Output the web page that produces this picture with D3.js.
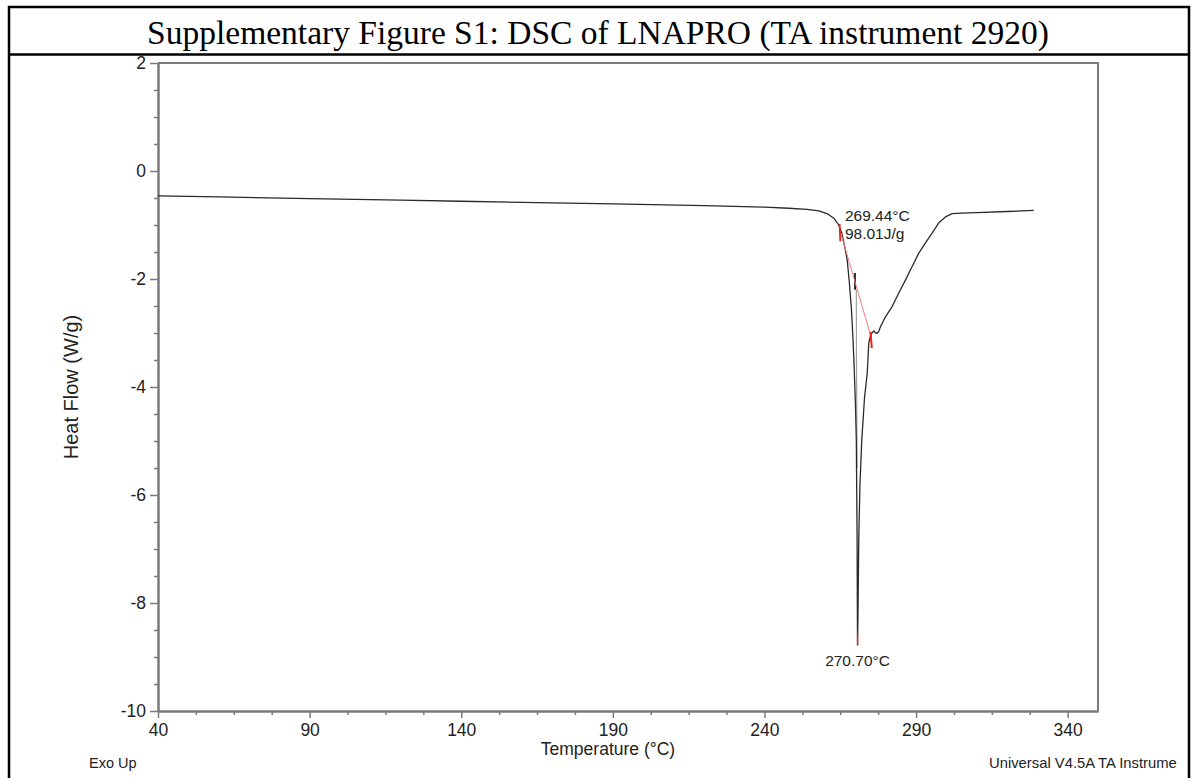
<!DOCTYPE html>
<html>
<head>
<meta charset="utf-8">
<script src="https://cdn.jsdelivr.net/npm/d3@7"></script>
<style>
  html, body { margin: 0; padding: 0; background: #fff; }
  svg { display: block; }
</style>
</head>
<body>
<svg id="chart" width="1196" height="778"></svg>
<script>
// ---------------- data ----------------
const titleText = "Supplementary Figure S1: DSC of LNAPRO (TA instrument 2920)";
const xTickValues = [40, 90, 140, 190, 240, 290, 340];
const yTickValues = [-10, -8, -6, -4, -2, 0, 2];

// main DSC trace: temperature (°C) and heat flow (W/g)
const curveTemp = [40, 60, 90, 120, 140, 170, 190, 220, 240, 248, 254, 258, 261, 263, 264.5, 265.5, 266.2, 266.8, 267.3, 268.0, 268.7, 269.1, 269.5, 270.0, 270.3, 270.55, 270.65, 270.7,
  270.85, 271.1, 271.5, 272.1, 273.0, 273.9, 274.4, 275.0, 275.6, 276.1, 276.6, 277.3, 277.7, 278.3, 279.9, 282.1, 284.3, 286.5, 288.7, 290.9, 293.1, 295.3, 297.5, 299.7, 301.9, 305, 310, 320, 328.8];
const curveFlow = [-0.46, -0.48, -0.51, -0.54, -0.56, -0.59, -0.61, -0.64, -0.67, -0.69, -0.71, -0.74, -0.80, -0.88, -1.00, -1.15, -1.33, -1.50, -1.65, -2.07, -2.57, -3.0, -3.5, -4.3, -5.0, -6.8, -8.2, -8.78,
  -8.2, -6.8, -5.8, -4.98, -4.2, -3.74, -3.19, -3.04, -2.99, -2.96, -3.0, -3.0, -2.97, -2.88, -2.70, -2.51, -2.26, -2.02, -1.77, -1.52, -1.33, -1.15, -0.96, -0.85, -0.79, -0.78, -0.77, -0.75, -0.73];

// secondary inner trace near the peak
const innerDarkTemp = [269.85, 269.88];
const innerDarkFlow = [-1.89, -2.2];
const innerGrayTemp = [270.3, 270.35, 270.55];
const innerGrayFlow = [-2.2, -3.5, -5.5];

// integration annotation
const integTemp = [264.9, 275.0];
const integFlow = [-1.1, -3.04];
const onsetTickTemp = [264.8, 265.0];
const onsetTickFlow = [-0.98, -1.3];
const endTickTemp = [275.0, 275.4];
const endTickFlow = [-2.98, -3.28];
const peakMarkTemp = [270.7, 270.7];
const peakMarkFlow = [-8.56, -8.78];
const onsetLabel = "269.44°C";
const enthalpyLabel = "98.01J/g";
const peakLabel = "270.70°C";
const peakTemp = 270.7;
const peakFlow = -8.78;

// ---------------- chart ----------------
const svg = d3.select("#chart");
const W = 1196, H = 778;
const plot = { left: 158, right: 1098, top: 63, bottom: 711 };

const x = d3.scaleLinear().domain([40, 350]).range([plot.left, plot.right]);
const y = d3.scaleLinear().domain([-10, 2]).range([plot.bottom, plot.top]);

const axisColor = "#7a7a7a";
const sans = "'Liberation Sans', Arial, Helvetica, sans-serif";
const frameRight = 1189;

// outer table frame
svg.append("rect").attr("x", 0).attr("y", 0).attr("width", W).attr("height", H).attr("fill", "#fff");
svg.append("line").attr("x1", 8).attr("x2", frameRight + 1).attr("y1", 7).attr("y2", 7).attr("stroke", "#000").attr("stroke-width", 2.5);
svg.append("line").attr("x1", 8).attr("x2", frameRight + 1).attr("y1", 54.5).attr("y2", 54.5).attr("stroke", "#000").attr("stroke-width", 2.5);
svg.append("line").attr("x1", 9).attr("x2", 9).attr("y1", 6).attr("y2", H).attr("stroke", "#000").attr("stroke-width", 2.5);
svg.append("line").attr("x1", frameRight).attr("x2", frameRight).attr("y1", 6).attr("y2", H).attr("stroke", "#000").attr("stroke-width", 2.5);

svg.append("text")
  .attr("x", 598).attr("y", 44)
  .attr("text-anchor", "middle")
  .attr("font-family", "'Liberation Serif', 'Times New Roman', serif")
  .attr("font-size", 33.5)
  .attr("fill", "#000")
  .text(titleText);

// plot frame (top and right)
svg.append("path")
  .attr("d", `M${plot.left},${plot.top}H${plot.right}V${plot.bottom}`)
  .attr("fill", "none").attr("stroke", axisColor).attr("stroke-width", 2);

// minor ticks
const yMinor = d3.range(-10, 2.001, 0.5).filter(v => Math.abs(v % 2) > 1e-6);
const xMinor = d3.range(40, 350, 12.5).filter(v => !xTickValues.includes(v));

function styleAxis(g) {
  g.selectAll("path.domain").attr("stroke", axisColor).attr("stroke-width", 2);
  g.selectAll(".tick line").attr("stroke", axisColor).attr("stroke-width", 1.5);
  g.selectAll(".tick text").attr("fill", "#222").attr("font-family", sans).attr("font-size", 17.5);
}

const gyMinor = svg.append("g").attr("transform", `translate(${plot.left},0)`)
  .call(d3.axisLeft(y).tickValues(yMinor).tickSize(4).tickSizeOuter(0).tickFormat(""));
styleAxis(gyMinor);
const gxMinor = svg.append("g").attr("transform", `translate(0,${plot.bottom})`)
  .call(d3.axisBottom(x).tickValues(xMinor).tickSize(4).tickSizeOuter(0).tickFormat(""));
styleAxis(gxMinor);

const gy = svg.append("g").attr("transform", `translate(${plot.left},0)`)
  .call(d3.axisLeft(y).tickValues(yTickValues).tickSize(8).tickSizeOuter(0).tickPadding(4).tickFormat(d => String(d)));
styleAxis(gy);
const gx = svg.append("g").attr("transform", `translate(0,${plot.bottom})`)
  .call(d3.axisBottom(x).tickValues(xTickValues).tickSize(7).tickSizeOuter(0).tickPadding(6).tickFormat(d => String(d)));
styleAxis(gx);
gx.selectAll(".tick text").attr("dy", "0.71em");

// axis titles
svg.append("text")
  .attr("transform", `translate(78,${(plot.top + plot.bottom) / 2}) rotate(-90)`)
  .attr("text-anchor", "middle")
  .attr("font-family", sans).attr("font-size", 20).attr("fill", "#222")
  .text("Heat Flow (W/g)");
svg.append("text")
  .attr("x", 608).attr("y", 755)
  .attr("text-anchor", "middle")
  .attr("font-family", sans).attr("font-size", 17.5).attr("fill", "#222")
  .text("Temperature (°C)");
svg.append("text")
  .attr("x", 89).attr("y", 768)
  .attr("font-family", sans).attr("font-size", 14.5).attr("fill", "#222")
  .text("Exo Up");
svg.append("clipPath").attr("id", "rightclip")
  .append("rect").attr("x", 0).attr("y", 0).attr("width", 1177).attr("height", H);
svg.append("text")
  .attr("x", 989).attr("y", 768)
  .attr("clip-path", "url(#rightclip)")
  .attr("font-family", sans).attr("font-size", 14.8).attr("fill", "#222")
  .text("Universal V4.5A TA Instruments");

// traces
const line = d3.line().x(d => x(d[0])).y(d => y(d[1]));
const zip = (a, b) => a.map((v, i) => [v, b[i]]);

svg.append("path").datum(zip(innerGrayTemp, innerGrayFlow))
  .attr("d", line).attr("fill", "none").attr("stroke", "#a0a0a0").attr("stroke-width", 1.2);
svg.append("path").datum(zip(curveTemp, curveFlow))
  .attr("d", line).attr("fill", "none").attr("stroke", "#2a2a2a").attr("stroke-width", 1.3)
  .attr("stroke-linejoin", "round");
svg.append("path").datum(zip(innerDarkTemp, innerDarkFlow))
  .attr("d", line).attr("fill", "none").attr("stroke", "#1a1a1a").attr("stroke-width", 1.8);

// integration annotation
svg.append("path").datum(zip(integTemp, integFlow))
  .attr("d", line).attr("fill", "none").attr("stroke", "#f27a7a").attr("stroke-width", 1);
svg.append("path").datum(zip(onsetTickTemp, onsetTickFlow))
  .attr("d", line).attr("fill", "none").attr("stroke", "#e8221e").attr("stroke-width", 1.8);
svg.append("path").datum(zip(endTickTemp, endTickFlow))
  .attr("d", line).attr("fill", "none").attr("stroke", "#e8221e").attr("stroke-width", 2);
svg.append("path").datum(zip(peakMarkTemp, peakMarkFlow))
  .attr("d", line).attr("fill", "none").attr("stroke", "#e8221e").attr("stroke-width", 1.3);

const ax = x(integTemp[0]);
const ay = y(integFlow[0]);
svg.append("text").attr("x", ax + 5).attr("y", ay - 9)
  .attr("font-family", sans).attr("font-size", 15.5).attr("fill", "#222").text(onsetLabel);
svg.append("text").attr("x", ax + 5).attr("y", ay + 9)
  .attr("font-family", sans).attr("font-size", 15.5).attr("fill", "#222").text(enthalpyLabel);
svg.append("text").attr("x", x(peakTemp)).attr("y", y(peakFlow) + 21)
  .attr("text-anchor", "middle")
  .attr("font-family", sans).attr("font-size", 15.5).attr("fill", "#222").text(peakLabel);
</script>
</body>
</html>
